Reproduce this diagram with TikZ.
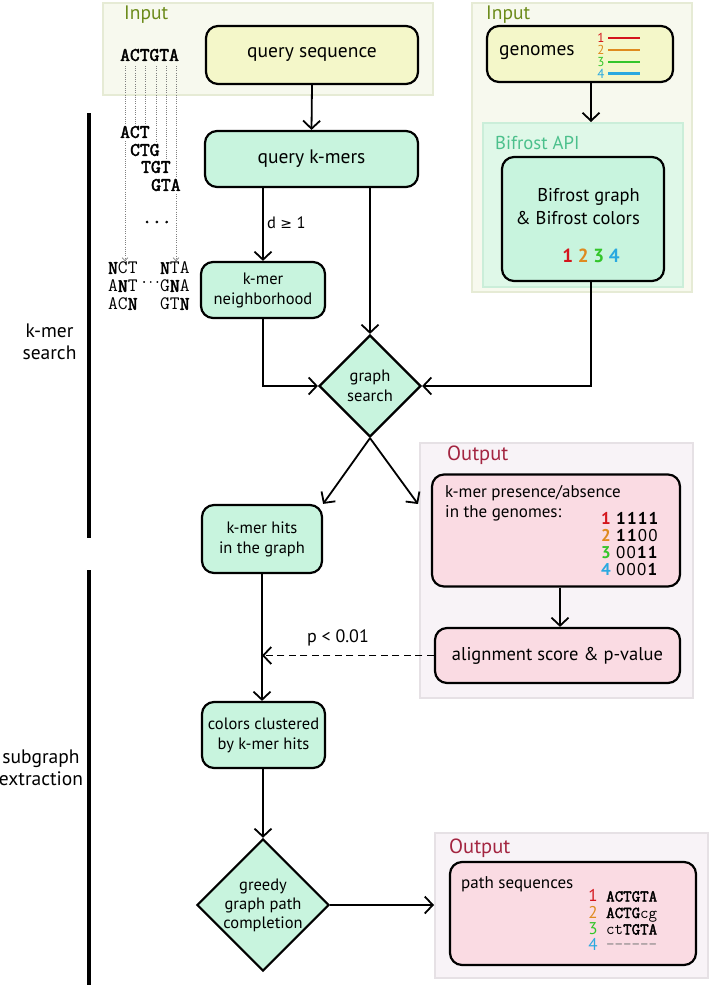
\documentclass[tikz,border=0pt]{standalone}
\usepackage{fontspec}
\setmainfont{PT Sans}
\newfontfamily\symfont{DejaVu Sans}
\newfontfamily\seqfont{Latin Modern Mono}[BoldFont={Latin Modern Mono}, BoldFeatures={FakeBold=2.5}]
\usetikzlibrary{arrows.meta,shapes.geometric,calc}
\definecolor{cone}{HTML}{D4141C}
\definecolor{ctwo}{HTML}{DF8A1F}
\definecolor{cthree}{HTML}{33C52A}
\definecolor{cfour}{HTML}{2AA9E0}
\definecolor{yel}{HTML}{F4F7C9}
\definecolor{mint}{HTML}{C8F4DE}
\definecolor{pinkbox}{HTML}{FADBE3}
\definecolor{inpfill}{HTML}{F7F9EE}
\definecolor{inpdraw}{HTML}{E6EBD5}
\definecolor{apifill}{HTML}{DFF8E8}
\definecolor{apidraw}{HTML}{CBEED9}
\definecolor{outfill}{HTML}{F8F3F7}
\definecolor{outdraw}{HTML}{E6E1E5}
\definecolor{inplab}{HTML}{6C8B1A}
\definecolor{apilab}{HTML}{4CC08C}
\definecolor{outlab}{HTML}{A32541}
\newcommand{\txt}{\fontsize{16.5}{20}\selectfont}
\newcommand{\bigtxt}{\fontsize{19.5}{22}\selectfont}
\newcommand{\midtxt}{\fontsize{17}{20}\selectfont}
\newcommand{\mn}{\seqfont\fontsize{19}{19}\selectfont}
\begin{document}
\begin{tikzpicture}[x=1pt,y=-1pt,
  box/.style={draw, line width=2.2pt, rounded corners=12pt, align=center, inner sep=0pt, font=\txt},
  dia/.style={draw, line width=2.2pt, diamond, aspect=1, inner sep=0pt, align=center, font=\txt, fill=mint},
  panel/.style={line width=2pt, inner sep=0pt},
  plabel/.style={anchor=west, font=\fontsize{19.5}{20}\selectfont, inner sep=0pt},
  conn/.style={line width=1.8pt},
  arr/.style={-{Straight Barb[length=8pt,width=17pt]}},
  dots/.style={gray, line width=0.7pt, dash pattern=on 0.8pt off 1.4pt},
  darr/.style={-{Straight Barb[length=3pt,width=6pt,line width=0.6pt]}},
  plain/.style={inner sep=0pt, font=\txt},
  km/.style={inner sep=0pt, anchor=west, font=\mn},
  ms/.style={inner sep=0pt, anchor=west, text height=8pt, text depth=1pt, font=\seqfont\fontsize{16.5}{16}\selectfont},
  rn/.style={inner sep=0pt, text height=8pt, text depth=1pt, font=\midtxt},
]
\useasboundingbox (0,0) rectangle (709,985);

% panels
\node[panel, fill=inpfill, draw=inpdraw, minimum width=330pt, minimum height=92pt] (inL) at (268,49) {};
\node[panel, fill=inpfill, draw=inpdraw, minimum width=220pt, minimum height=289pt] (inR) at (582,147.5) {};
\node[panel, fill=apifill, draw=apidraw, minimum width=200pt, minimum height=164pt] (api) at (583,205) {};
\node[panel, fill=outfill, draw=outdraw, minimum width=273pt, minimum height=255pt] (out1) at (556.5,570.5) {};
\node[panel, fill=outfill, draw=outdraw, minimum width=273pt, minimum height=145pt] (out2) at (571.5,905.5) {};

\node[plabel, text=inplab] (linL) at (124,15) {Input};
\node[plabel, text=inplab] (linR) at (486,15) {Input};
\node[plabel, text=apilab, font=\fontsize{18.7}{20}\selectfont] (lapi) at (495,143) {Bifrost API};
\node[plabel, text=outlab, font=\fontsize{20.5}{20}\selectfont] (lout1) at (447,455) {Output};
\node[plabel, text=outlab, font=\fontsize{20.5}{20}\selectfont] (lout2) at (449,848) {Output};

% boxes
\node[box, fill=yel, minimum width=212pt, minimum height=58pt, font=\bigtxt] (qs) at (312,55) {query sequence};
\node[box, fill=mint, minimum width=213pt, minimum height=56pt, font=\bigtxt] (qk) at (311.5,159) {query k-mers};
\node[box, fill=yel, minimum width=186pt, minimum height=56pt] (gen) at (580,54) {};
\node[plain, anchor=west, font=\bigtxt] (gent) at (499,53) {genomes};
\node[inner sep=0pt, font=\fontsize{13}{12}\selectfont, text=cone] (g1) at (601,38) {1};
\node[inner sep=0pt, font=\fontsize{13}{12}\selectfont, text=ctwo] (g2) at (601,50) {2};
\node[inner sep=0pt, font=\fontsize{13}{12}\selectfont, text=cthree] (g3) at (601,62) {3};
\node[inner sep=0pt, font=\fontsize{13}{12}\selectfont, text=cfour] (g4) at (601,73.5) {4};
\draw[cone, line width=2.8pt] (608,38) -- (640,38);
\draw[ctwo, line width=2.8pt] (608,50) -- (640,50);
\draw[cthree, line width=2.8pt] (608,62) -- (640,62);
\draw[cfour, line width=2.8pt] (608,73.5) -- (640,73.5);

\node[box, fill=mint, minimum width=162pt, minimum height=124pt] (bg) at (583,219) {};
\node[inner sep=0pt, anchor=east, align=right, font=\fontsize{18.5}{23}\selectfont] (bgt) at (640,206.5) {Bifrost graph\\\& Bifrost colors};
\node[inner sep=0pt, font=\fontsize{19}{20}\selectfont\bfseries] (bgn) at (591,256) {\textcolor{cone}{1} \textcolor{ctwo}{2} \textcolor{cthree}{3} \textcolor{cfour}{4}};

\node[box, fill=mint, minimum width=124pt, minimum height=56pt] (kn) at (263,290) {k-mer\\neighborhood};
\node[dia, minimum width=102pt, minimum height=102pt] (gs) at (370,386) {graph\\search};
\node[box, fill=mint, minimum width=120pt, minimum height=68pt] (kh) at (262,539) {k-mer hits\\in the graph};

\node[box, fill=pinkbox, minimum width=248pt, minimum height=112pt] (kp) at (556,530.5) {};
\node[plain, anchor=north west, align=left, font=\midtxt] (kpt) at (445,485) {k-mer presence/absence\\in the genomes:};
\node[rn, font=\midtxt\bfseries, text=cone] (r1) at (606,521) {1};
\node[rn, font=\midtxt\bfseries, text=ctwo] (r2) at (606,538) {2};
\node[rn, font=\midtxt\bfseries, text=cthree] (r3) at (606,555) {3};
\node[rn, font=\midtxt\bfseries, text=cfour] (r4) at (606,572) {4};
\node[rn, anchor=west] (b1) at (616,521) {\bfseries 1\kern1.2pt1\kern1.2pt1\kern1.2pt1};
\node[rn, anchor=west] (b2) at (616,538) {\bfseries 1\kern1.2pt1\kern1.2pt\mdseries 0\kern1.2pt0};
\node[rn, anchor=west] (b3) at (616,555) {0\kern1.2pt0\kern1.2pt\bfseries 1\kern1.2pt1};
\node[rn, anchor=west] (b4) at (616,572) {0\kern1.2pt0\kern1.2pt0\kern1.2pt\bfseries 1};

\node[box, fill=pinkbox, minimum width=245pt, minimum height=55pt, font=\fontsize{18.5}{20}\selectfont] (al) at (557.5,655.5) {alignment score \& p-value};
\node[box, fill=mint, minimum width=123pt, minimum height=66pt] (cc) at (263.5,735) {colors clustered\\by k-mer hits};
\node[dia, minimum width=126pt, minimum height=124pt, font=\fontsize{16.5}{19}\selectfont] (gd) at (263,905) {greedy\\graph path\\completion};

\node[box, fill=pinkbox, minimum width=246pt, minimum height=103pt] (ps) at (573,913.5) {};
\node[plain, anchor=west, font=\midtxt] (pst) at (461,884) {path sequences};
\node[rn, text=cone] (p1) at (593,898) {1};
\node[rn, text=ctwo] (p2) at (593,914.5) {2};
\node[rn, text=cthree] (p3) at (593,931) {3};
\node[rn, text=cfour] (p4) at (593,947) {4};
\node[ms] (s1) at (606,898) {\bfseries ACTGTA};
\node[ms] (s2) at (606,914.5) {\bfseries ACTG\mdseries cg};
\node[ms] (s3) at (606,931) {ct\bfseries TGTA};
\node[ms, text=gray] (s4) at (606,946) {------};

% left side sequences
\node[km] (seq) at (120,55) {\bfseries ACTGTA};
\node[km] (k1) at (120,132) {\bfseries ACT};
\node[km] (k2) at (130,150) {\bfseries CTG};
\node[km] (k3) at (141,167) {\bfseries TGT};
\node[km] (k4) at (151,185) {\bfseries GTA};
\node[km] (kd) at (142,222) {\bfseries ...};
\node[km] (n1) at (108,268) {\bfseries N\mdseries CT};
\node[km] (n2) at (108,286) {A\bfseries N\mdseries T};
\node[km] (n3) at (108,304) {AC\bfseries N};
\node[km] (m1) at (160,268) {\bfseries N\mdseries TA};
\node[km] (m2) at (160,286) {G\bfseries N\mdseries A};
\node[km] (m3) at (160,304) {GT\bfseries N};
\node[km, font=\seqfont\fontsize{13}{13}\selectfont] (nd) at (140.5,282) {\bfseries ...};

\coordinate (d1a) at (125,66); \coordinate (d1b) at (125,124);
\coordinate (d2a) at (135,66); \coordinate (d2b) at (135,124);
\coordinate (d3a) at (145,66); \coordinate (d3b) at (145,124);
\coordinate (d4a) at (156,66); \coordinate (d4b) at (156,142);
\coordinate (d5a) at (166,66); \coordinate (d5b) at (166,159);
\coordinate (d6a) at (176,66); \coordinate (d6b) at (176,177);
\coordinate (e1a) at (125,141); \coordinate (e1b) at (125,261);
\coordinate (e6a) at (176,194); \coordinate (e6b) at (176,261);
\draw[dots] (d1a) -- (d1b);
\draw[dots] (d2a) -- (d2b);
\draw[dots] (d3a) -- (d3b);
\draw[dots] (d4a) -- (d4b);
\draw[dots] (d5a) -- (d5b);
\draw[dots] (d6a) -- (d6b);
\draw[dots, darr] (e1a) -- (e1b);
\draw[dots, darr] (e6a) -- (e6b);

% side bars and labels
\draw[line width=4pt] (89,113) -- (89,538);
\draw[line width=4pt] (89,570) -- (89,985);
\node[plain, align=center, font=\bigtxt] (lab1) at (49.5,342) {k-mer\\search};
\node[plain, align=center, font=\bigtxt] (lab2) at (41,768) {subgraph\\extraction};

% connectors
\draw[conn, arr] (qs.south) -- (qk.north);
\draw[conn, arr] (kn.north |- qk.south) -- (kn.north);
\node[plain, anchor=west] (dl) at (267,223) {d {\symfont\fontsize{14}{16}\selectfont ≥} 1};
\draw[conn, arr] (gs.north |- qk.south) -- (gs.north);
\draw[conn, arr] (kn.south) |- (gs.west);
\draw[conn, arr] ($(bg.south)+(8,0)$) |- (gs.east);
\draw[conn, arr] ($(gen.south)+(11,0)$) -- ($(api.north)+(8,0)$);
\draw[conn, arr] (gs.south) -- (kh.north east);
\coordinate (o1in) at (418,504);
\draw[conn, arr] (gs.south) -- (o1in);
\draw[conn, arr] ($(kp.south)+(4,0)$) -- ($(al.north)+(2.5,0)$);
\draw[conn, arr] (kh.south) -- (kh.south |- cc.north);
\draw[conn, arr, dash pattern=on 7pt off 4.5pt] (al.west) -- (al.west -| kh.south);
\node[plain, font=\fontsize{18}{20}\selectfont] (pl) at (338,638) {p < 0.01};
\draw[conn, arr] (cc.south -| gd.north) -- (gd.north);
\draw[conn, arr] (gd.east) -- (gd.east -| out2.west);
\end{tikzpicture}
\end{document}
